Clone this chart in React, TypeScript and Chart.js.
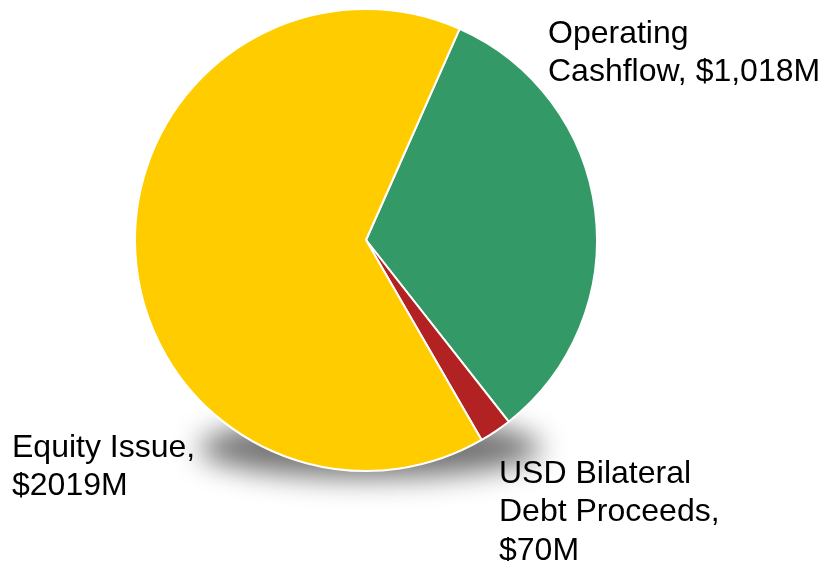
import React, { useEffect, useRef } from "react";
import { Chart, registerables } from "chart.js";

Chart.register(...registerables);

const categories = ["Operating Cashflow", "USD Bilateral Debt Proceeds", "Equity Issue"];
const values = [1018, 70, 2019];
const labelLines = [
  ["Operating", "Cashflow, $1,018M"],
  ["USD Bilateral", "Debt Proceeds,", "$70M"],
  ["Equity Issue,", "$2019M"],
];
const colors = ["#339966", "#B22222", "#FFCC00"];

const labelPos = [
  { x: 548, y: 43 },
  { x: 499, y: 483 },
  { x: 12, y: 457 },
];

const shadowPlugin = {
  id: "pieShadow",
  beforeDatasetsDraw(chart: any) {
    const meta = chart.getDatasetMeta(0);
    const arc = meta.data[0];
    if (!arc) return;
    const { x, y, outerRadius } = arc.getProps(["x", "y", "outerRadius"], true);
    const ctx = chart.ctx;
    ctx.save();
    ctx.filter = "blur(14px)";
    ctx.fillStyle = "rgba(0,0,0,0.55)";
    ctx.beginPath();
    ctx.ellipse(x + 4, y + outerRadius * 0.9, outerRadius * 0.74, outerRadius * 0.13, 0, 0, Math.PI * 2);
    ctx.fill();
    ctx.restore();
  },
};

const labelPlugin = {
  id: "outerLabels",
  afterDatasetsDraw(chart: any) {
    const ctx = chart.ctx;
    ctx.save();
    ctx.font = '32px "Liberation Sans", Arial, sans-serif';
    ctx.fillStyle = "#000000";
    ctx.textAlign = "left";
    ctx.textBaseline = "alphabetic";
    labelLines.forEach((lines, i) => {
      const p = labelPos[i];
      lines.forEach((t, j) => {
        ctx.fillText(t, p.x, p.y + j * 38.4);
      });
    });
    ctx.restore();
  },
};

export default function App() {
  const ref = useRef<HTMLCanvasElement>(null);
  useEffect(() => {
    if (!ref.current) return;
    const chart = new Chart(ref.current, {
      type: "pie",
      data: {
        labels: categories,
        datasets: [
          {
            data: values,
            backgroundColor: colors,
            borderColor: "#ffffff",
            borderWidth: 2,
          },
        ],
      },
      options: {
        responsive: false,
        animation: false,
        rotation: 23.9,
        layout: { padding: { left: 134, right: 229, top: 8, bottom: 89 } },
        plugins: {
          legend: { display: false },
          tooltip: { enabled: false },
        },
      },
      plugins: [shadowPlugin, labelPlugin],
    });
    return () => chart.destroy();
  }, []);
  return (
    <div style={{ position: "fixed", left: 0, top: 0, width: 827, height: 561, background: "#fff" }}>
      <canvas ref={ref} width={827} height={561} style={{ width: 827, height: 561 }} />
    </div>
  );
}
